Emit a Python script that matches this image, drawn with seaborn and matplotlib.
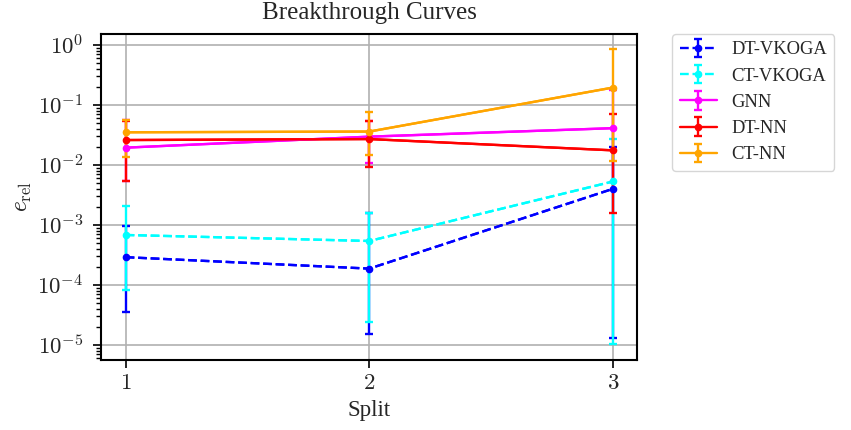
import matplotlib
matplotlib.use('Agg')
import matplotlib.pyplot as plt
import matplotlib.ticker as mticker
import seaborn as sns
import numpy as np
import pandas as pd

# Datos (media y extremos de las barras de error)
splits = [1, 2, 3]
series_names = ["DT-VKOGA", "CT-VKOGA", "GNN", "DT-NN", "CT-NN"]

dt_vkoga_mean = [2.9e-4, 1.87e-4, 4.0e-3]
dt_vkoga_low = [3.5e-5, 1.5e-5, 1.3e-5]
dt_vkoga_high = [9.6e-4, 1.6e-3, 2.0e-2]

ct_vkoga_mean = [6.8e-4, 5.4e-4, 5.3e-3]
ct_vkoga_low = [8.3e-5, 2.4e-5, 1.05e-5]
ct_vkoga_high = [2.1e-3, 1.6e-3, 2.7e-2]

gnn_mean = [1.94e-2, 2.96e-2, 4.1e-2]
gnn_low = [5.4e-3, 1.07e-2, 5.2e-3]
gnn_high = [5.6e-2, 5.3e-2, 0.175]

dt_nn_mean = [2.6e-2, 2.7e-2, 1.75e-2]
dt_nn_low = [5.4e-3, 9.4e-3, 1.6e-3]
dt_nn_high = [5.5e-2, 5.3e-2, 7.1e-2]

ct_nn_mean = [3.5e-2, 3.6e-2, 0.195]
ct_nn_low = [1.36e-2, 1.45e-2, 1.15e-2]
ct_nn_high = [5.7e-2, 7.7e-2, 0.85]

colors = ["blue", "cyan", "magenta", "red", "orange"]
styles = ["--", "--", "-", "-", "-"]

means = [dt_vkoga_mean, ct_vkoga_mean, gnn_mean, dt_nn_mean, ct_nn_mean]
lows = [dt_vkoga_low, ct_vkoga_low, gnn_low, dt_nn_low, ct_nn_low]
highs = [dt_vkoga_high, ct_vkoga_high, gnn_high, dt_nn_high, ct_nn_high]

# Estilo
sns.set_style("white")
plt.rcParams['font.family'] = ['Liberation Serif', 'DejaVu Serif']
plt.rcParams['mathtext.fontset'] = 'cm'

fig, ax = plt.subplots(figsize=(8.51, 4.30), dpi=100)
fig.subplots_adjust(left=0.119, right=0.749, top=0.921, bottom=0.163)
ax.set_yscale('log')

for name, m, lo, hi, c, ls in zip(series_names, means, lows, highs, colors, styles):
    df = pd.DataFrame({"Split": splits, "Error": m})
    sns.lineplot(data=df, x="Split", y="Error", ax=ax, color=c, linestyle=ls,
                 linewidth=1.7, legend=False)
    m_arr = np.array(m)
    yerr = [m_arr - np.array(lo), np.array(hi) - m_arr]
    ax.errorbar(splits, m, yerr=yerr, fmt=ls, marker='o', markersize=4.5,
                color=c, linewidth=1.7, elinewidth=1.7, capsize=3, capthick=1.7,
                label=name)

ax.set_xlim(0.9, 3.1)
ax.set_ylim(10 ** -5.25, 10 ** 0.183)
ax.set_xticks(splits, labels=[f"${s}$" for s in splits])
ax.yaxis.set_major_locator(mticker.LogLocator(base=10, numticks=10))
ax.yaxis.set_major_formatter(mticker.FuncFormatter(
    lambda v, p: r"$10^{%d}$" % int(round(np.log10(v)))))
ax.yaxis.set_minor_locator(mticker.LogLocator(base=10, subs=np.arange(2, 10), numticks=20))
ax.yaxis.set_minor_formatter(mticker.NullFormatter())

ax.tick_params(axis='both', which='major', direction='out', length=6, width=1.2,
               labelsize=16.5, left=True, bottom=True, color='black')
ax.tick_params(axis='y', which='major', pad=7)
ax.tick_params(axis='y', which='minor', direction='out', length=3.5, width=1,
               left=True, color='black')

ax.grid(True, which='major', color='#b0b0b0', linewidth=1.2)
for sp in ax.spines.values():
    sp.set_color('black')
    sp.set_linewidth(1.5)

ax.set_title("Breakthrough Curves", fontsize=18, pad=11)
ax.set_xlabel("Split", fontsize=16.5)
ax.set_ylabel(r"$e_{\mathrm{rel}}$", fontsize=17, labelpad=2)

ax.legend(loc='upper left', bbox_to_anchor=(1.065, 1.0), borderaxespad=0,
          fontsize=13.3, frameon=True, edgecolor='#cccccc', fancybox=True)

plt.savefig("out.png", dpi=100)
plt.close()
